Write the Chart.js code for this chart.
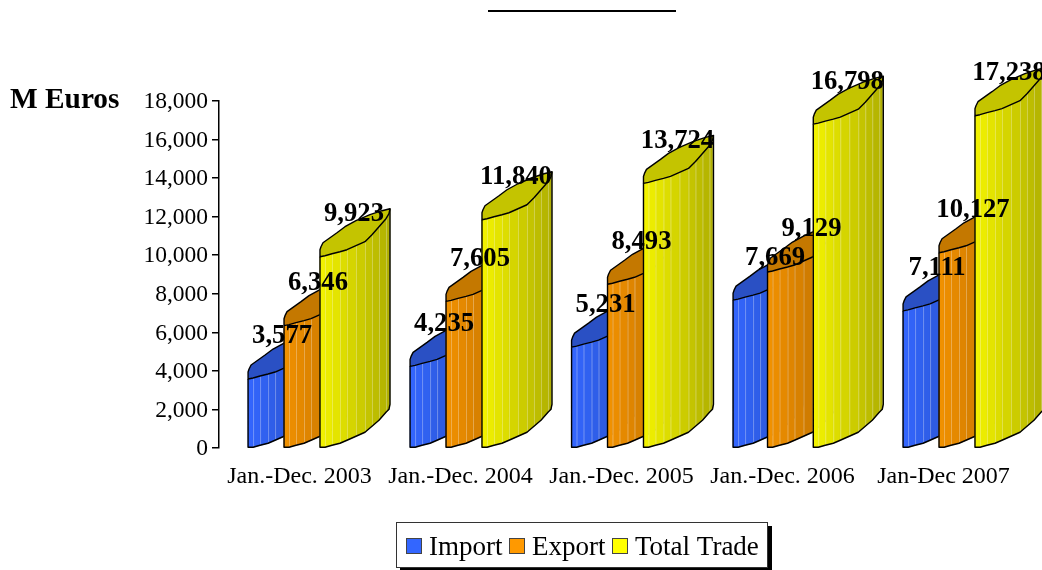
<!DOCTYPE html>
<html>
<head>
<meta charset="utf-8">
<title>Import Export Total Trade</title>
<script src="https://cdn.jsdelivr.net/npm/chart.js@4"></script>
<style>
  html, body { margin: 0; padding: 0; background: #fff; overflow: hidden; }
  canvas { display: block; }
</style>
</head>
<body>
<canvas id="tradeChart" width="1042" height="570"></canvas>
<script>
const categories = ['Jan.-Dec. 2003', 'Jan.-Dec. 2004', 'Jan.-Dec. 2005', 'Jan.-Dec. 2006', 'Jan-Dec 2007'];
const importValues = [3577, 4235, 5231, 7669, 7111];
const exportValues = [6346, 7605, 8493, 9129, 10127];
const totalValues = [9923, 11840, 13724, 16798, 17238];
const yTicks = [0, 2000, 4000, 6000, 8000, 10000, 12000, 14000, 16000, 18000];

const serif = '"Liberation Serif", "Times New Roman", serif';

// bars in the original are not evenly spaced, per category / per series correction
const barShift = [[2.5, 2.5, 2.5], [3.5, 3.5, 3.5], [4, 4, 4], [4.5, 3, 12.8], [13.5, 13.5, 13.5]];
const labelShift = [[0, 0, 0], [0, 0, 0], [0, 0, 0], [8, 10, 0], [0, 0, 0]];

// shape of the 3d column, as offsets from the front left corner
const sideCurve = [[0, 0], [5, 0], [12, -2], [20, -4], [27, -7], [36, -11], [45, -15], [52, -21], [59, -27], [66, -35], [69, -38], [70, -43]];
const lidFront = [[0, 0], [5, -1], [12, -3], [20, -5], [27, -7], [36, -11], [45, -15], [52, -22], [59, -30], [66, -38], [69, -43], [70, -48]];
const lidBack = [[70, -48], [62, -46], [50, -42], [36, -36], [25, -30], [17, -24], [10, -19], [3, -14], [1, -10], [0, -7]];

const shades = [
  { left: [51, 102, 255], right: [40, 78, 190], lid: '#2a50c4' },
  { left: [242, 146, 0], right: [184, 108, 0], lid: '#c47800' },
  { left: [244, 244, 0], right: [174, 174, 0], lid: '#c4c400' }
];

function mix(a, b, t) {
  const c = a.map((v, i) => Math.round(v + (b[i] - v) * t));
  return 'rgb(' + c.join(',') + ')';
}

function drawColumn(ctx, x, top, base, shade) {
  // strips
  for (let i = 0; i < sideCurve.length - 1; i++) {
    const a = sideCurve[i], b = sideCurve[i + 1];
    const ta = lidFront[i], tb = lidFront[i + 1];
    ctx.fillStyle = mix(shade.left, shade.right, (a[0] + b[0]) / 2 / 70);
    ctx.beginPath();
    ctx.moveTo(x + a[0], base + a[1]);
    ctx.lineTo(x + b[0], base + b[1]);
    ctx.lineTo(x + tb[0], top + tb[1]);
    ctx.lineTo(x + ta[0], top + ta[1]);
    ctx.closePath();
    ctx.fill();
    ctx.strokeStyle = ctx.fillStyle;
    ctx.lineWidth = 0.6;
    ctx.stroke();
  }
  // light lines between strips
  ctx.strokeStyle = 'rgba(255,255,255,0.3)';
  ctx.lineWidth = 1;
  for (let i = 1; i < sideCurve.length - 1; i++) {
    ctx.beginPath();
    ctx.moveTo(x + sideCurve[i][0] + 0.5, base + sideCurve[i][1]);
    ctx.lineTo(x + lidFront[i][0] + 0.5, top + lidFront[i][1]);
    ctx.stroke();
  }
  // lid
  ctx.fillStyle = shade.lid;
  ctx.beginPath();
  lidFront.forEach((p, i) => i ? ctx.lineTo(x + p[0], top + p[1]) : ctx.moveTo(x + p[0], top + p[1]));
  lidBack.forEach(p => ctx.lineTo(x + p[0], top + p[1]));
  ctx.closePath();
  ctx.fill();
  // outline
  ctx.strokeStyle = '#000';
  ctx.lineWidth = 1.4;
  ctx.lineJoin = 'round';
  ctx.stroke();
  ctx.beginPath();
  ctx.moveTo(x, top);
  sideCurve.forEach(p => ctx.lineTo(x + p[0], base + p[1]));
  ctx.lineTo(x + 70, top - 48);
  ctx.stroke();
}

const columns3d = {
  id: 'columns3d',
  beforeDatasetsDraw(chart) {
    const ctx = chart.ctx;
    ctx.save();
    categories.forEach((c, i) => {
      chart.data.datasets.forEach((ds, s) => {
        const bar = chart.getDatasetMeta(s).data[i];
        const left = bar.x - bar.width / 2 + barShift[i][s];
        drawColumn(ctx, left, bar.y, bar.base, shades[s]);
      });
    });
    ctx.restore();
    return false;
  },
  afterDraw(chart) {
    const ctx = chart.ctx;
    ctx.save();
    // value labels sit above every column
    ctx.fillStyle = '#000';
    ctx.font = 'bold 26.67px ' + serif;
    ctx.textAlign = 'center';
    ctx.textBaseline = 'middle';
    chart.data.datasets.forEach((ds, s) => {
      ds.data.forEach((v, i) => {
        const bar = chart.getDatasetMeta(s).data[i];
        const left = bar.x - bar.width / 2 + barShift[i][s];
        ctx.fillText(v.toLocaleString('en-US'), left + 34 + labelShift[i][s], bar.y - 42.5);
      });
    });
    // unit label
    ctx.textAlign = 'left';
    ctx.font = 'bold 29.33px ' + serif;
    ctx.fillText('M Euros', 10, 100);
    // empty underlined title
    ctx.fillRect(488, 10, 188, 2);
    // legend box
    ctx.fillRect(400, 526, 372, 46);
    ctx.fillStyle = '#fff';
    ctx.strokeStyle = '#333';
    ctx.lineWidth = 1;
    ctx.fillRect(396.5, 522.5, 371, 45);
    ctx.strokeRect(396.5, 522.5, 371, 45);
    ctx.font = '27px ' + serif;
    const swatchX = [406.5, 509.5, 612.5];
    const textX = [429, 532, 635];
    chart.data.datasets.forEach((ds, s) => {
      ctx.fillStyle = ds.backgroundColor;
      ctx.fillRect(swatchX[s], 538.5, 15, 15);
      ctx.strokeStyle = '#444';
      ctx.strokeRect(swatchX[s], 538.5, 15, 15);
      ctx.fillStyle = '#000';
      ctx.fillText(ds.label, textX[s], 548);
    });
    ctx.restore();
  }
};

new Chart(document.getElementById('tradeChart'), {
  type: 'bar',
  data: {
    labels: categories,
    datasets: [
      { label: 'Import', data: importValues, backgroundColor: '#3366ff' },
      { label: 'Export', data: exportValues, backgroundColor: '#ff9900' },
      { label: 'Total Trade', data: totalValues, backgroundColor: '#ffff00' }
    ]
  },
  options: {
    responsive: false,
    animation: false,
    categoryPercentage: 0.67,
    barPercentage: 1,
    layout: { padding: { left: 0, right: 18, top: 101, bottom: 0 } },
    plugins: {
      legend: { display: false },
      tooltip: { enabled: false }
    },
    scales: {
      x: {
        afterFit(s) { s.height = 122; },
        grid: { display: false },
        border: { display: false },
        ticks: {
          color: '#000',
          padding: 6,
          maxRotation: 0,
          autoSkip: false,
          font: { family: serif, size: 24 }
        }
      },
      y: {
        min: 0,
        max: 18000,
        afterFit(s) { s.width = 219; },
        afterBuildTicks(s) { s.ticks = yTicks.map(v => ({ value: v })); },
        grid: { drawOnChartArea: false, color: '#000', tickLength: 7, lineWidth: 1.5 },
        border: { display: true, color: '#000', width: 1.5 },
        ticks: {
          color: '#000',
          padding: 4,
          labelOffset: 1,
          font: { family: serif, size: 23.5 },
          callback: v => v.toLocaleString('en-US')
        }
      }
    }
  },
  plugins: [columns3d]
});
</script>
</body>
</html>
